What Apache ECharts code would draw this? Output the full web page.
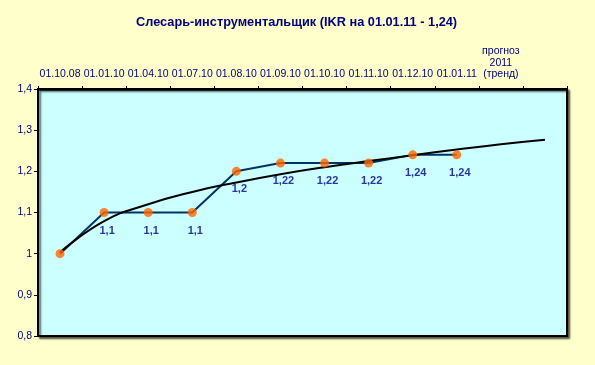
<!DOCTYPE html>
<html>
<head>
<meta charset="utf-8">
<script src="https://cdn.jsdelivr.net/npm/echarts@6/dist/echarts.min.js"></script>
<style>
html,body{margin:0;padding:0;background:#FFFFCC;}
#c{width:595px;height:365px;}
</style>
</head>
<body>
<div id="c"></div>
<script>
var titleText = 'Слесарь-инструментальщик (IKR на 01.01.11 - 1,24)';
var categories = ['01.10.08','01.01.10','01.04.10','01.07.10','01.08.10','01.09.10','01.10.10','01.11.10','01.12.10','01.01.11','прогноз\n2011\n(тренд)',''];
var values = [1, 1.1, 1.1, 1.1, 1.2, 1.22, 1.22, 1.22, 1.24, 1.24];
var trendValues = [1.003, 1.079, 1.120, 1.150, 1.173, 1.193, 1.210, 1.225, 1.239, 1.253, 1.266, 1.277];
var yTicks = [0.8, 0.9, 1.0, 1.1, 1.2, 1.3, 1.4];

var FONT = 'Liberation Sans, Arial, sans-serif';
var NAVY = '#000080';
function comma(v){ return String(Math.round(v*100)/100).replace('.', ','); }

var chart = echarts.init(document.getElementById('c'));
chart.setOption({
  backgroundColor: '#FFFFCC',
  animation: false,
  title: {
    text: titleText,
    left: 131, top: 11,
    textStyle: {fontFamily: FONT, fontSize: 12.75, fontWeight: 'bold', color: NAVY}
  },
  grid: {
    left: 38, right: 28, top: 89, bottom: 29,
    show: true, backgroundColor: '#CCFFFF',
    borderColor: '#000', borderWidth: 2,
    shadowColor: 'rgba(0,0,0,0.6)', shadowOffsetX: 2, shadowOffsetY: 2, shadowBlur: 2
  },
  xAxis: {
    type: 'category', position: 'top', data: categories, boundaryGap: true,
    axisLine: {lineStyle: {color: '#000', width: 2.5}},
    axisTick: {show: true, length: 3, lineStyle: {color: '#000'}},
    axisLabel: {interval: 0, margin: 9, fontFamily: FONT, fontSize: 10.5, color: NAVY, lineHeight: 11.5},
    splitLine: {show: false}
  },
  yAxis: {
    type: 'value', min: yTicks[0], max: yTicks[yTicks.length-1], interval: 0.1,
    axisLine: {show: true, lineStyle: {color: '#000', width: 2}},
    axisTick: {show: true, length: 4, lineStyle: {color: '#000'}},
    axisLabel: {margin: 6, fontFamily: FONT, fontSize: 10.5, color: NAVY, formatter: function(v){ return comma(v); }},
    splitLine: {show: false}
  },
  series: [
    {
      type: 'line', data: values, z: 2,
      showSymbol: false, symbol: 'none',
      lineStyle: {color: '#003366', width: 2}
    },
    {
      type: 'line', data: trendValues, z: 3,
      showSymbol: false, symbol: 'none', smooth: 0.5,
      lineStyle: {color: '#000', width: 2}
    },
    {
      type: 'scatter', z: 4,
      data: values.map(function(v, i){
        return {value: v, label: {show: i > 0}};
      }),
      symbol: 'circle', symbolSize: 9,
      itemStyle: {color: '#FF6600'},
      label: {
        show: true, position: 'bottom', distance: 8, offset: [3, 0],
        fontFamily: FONT, fontSize: 11, fontWeight: 'bold', color: NAVY,
        formatter: function(p){ return comma(p.value); }
      }
    }
  ]
});
</script>
</body>
</html>
